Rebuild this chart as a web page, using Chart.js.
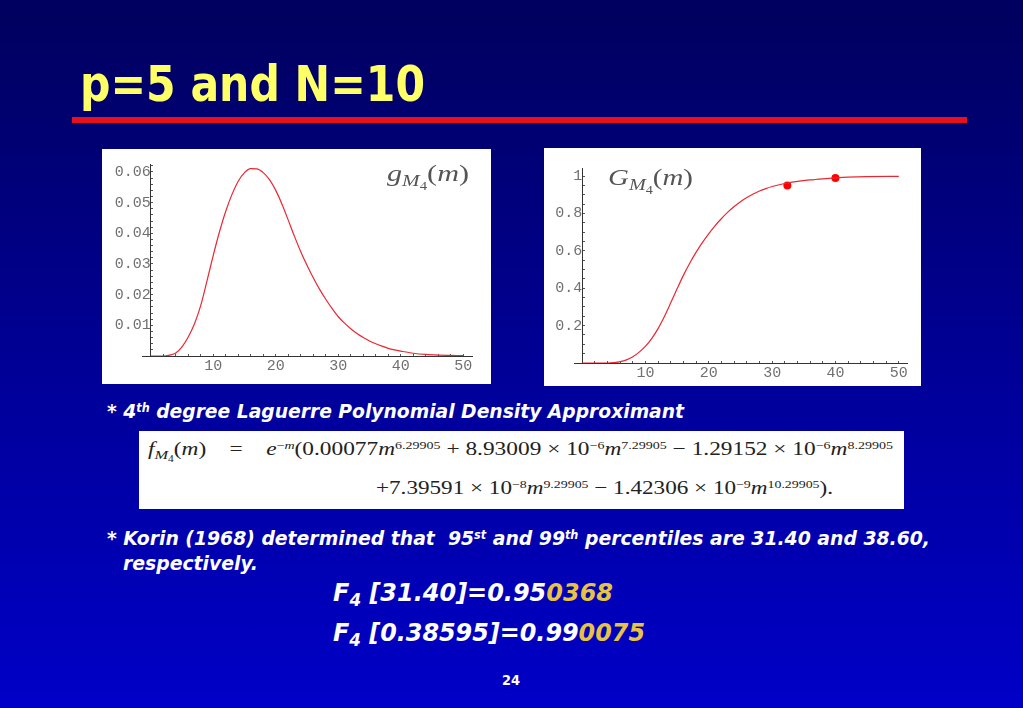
<!DOCTYPE html>
<html>
<head>
<meta charset="utf-8">
<script src="https://cdn.jsdelivr.net/npm/chart.js@4.4.0/dist/chart.umd.min.js"></script>
<style>
  html, body { margin: 0; padding: 0; }
  body {
    width: 1023px; height: 708px; overflow: hidden; position: relative;
    background: linear-gradient(to bottom, #00005e 0%, #00009a 55%, #0000c8 100%);
    font-family: "DejaVu Sans Condensed", "DejaVu Sans", sans-serif;
  }
  .abs { position: absolute; white-space: nowrap; line-height: 1; transform-origin: 0 0; }
  .title { left: 80px; top: 59px; font-size: 50px; font-weight: bold; color: #ffff66; }
  .rule { position: absolute; left: 72px; top: 117px; width: 895px; height: 6px; background: #e8101c; }
  .panel { position: absolute; background: #fff; }
  .panel canvas { position: absolute; left: 0; top: 0; }
  .txt { color: #fff; font-weight: bold; font-style: italic; font-size: 20px; }
  .fm { color: #fff; font-weight: bold; font-style: italic; font-size: 25px; }
  .gold { color: #e6c245; }
  .up { position: relative; top: -0.5em; font-size: 0.6em; }
  .dn { position: relative; top: 0.3em; font-size: 0.7em; }
  .lbl { font-family: "Liberation Serif", serif; color: #555; font-size: 24px; }
  .formula { font-family: "Liberation Serif", serif; color: #222; font-size: 19px; }
  .pg { color: #fff; font-weight: bold; font-size: 14px; }
</style>
</head>
<body>

<div class="abs title" id="title">p=5 and N=10</div>
<div class="rule"></div>

<div class="panel" style="left:102px;top:149px;width:389px;height:235px;">
  <canvas id="density" width="389" height="235"></canvas>
</div>
<div class="panel" style="left:544px;top:148px;width:377px;height:238px;">
  <canvas id="cdf" width="377" height="238"></canvas>
</div>

<div class="abs lbl" id="gl" style="left:387px;top:161px;"><i>g</i><span class="dn"><i>M</i><span class="dn">4</span></span>(<i>m</i>)</div>
<div class="abs lbl" id="Gl" style="left:608px;top:165px;"><i>G</i><span class="dn"><i>M</i><span class="dn">4</span></span>(<i>m</i>)</div>

<div class="abs txt" id="t1" style="left:107px;top:401px;">* 4<span class="up">th</span> degree Laguerre Polynomial Density Approximant</div>

<div class="panel" style="left:139px;top:431px;width:765px;height:78px;"></div>
<div class="abs formula" id="f1" style="left:148px;top:439px;"><i>f</i><span class="dn"><i>M</i><span class="dn">4</span></span>(<i>m</i>)&nbsp;&nbsp;&nbsp;&nbsp;=&nbsp;&nbsp;&nbsp;&nbsp;<i>e</i><span class="up">−<i>m</i></span>(0.00077<i>m</i><span class="up">6.29905</span> + 8.93009 × 10<span class="up">−6</span><i>m</i><span class="up">7.29905</span> − 1.29152 × 10<span class="up">−6</span><i>m</i><span class="up">8.29905</span></div>
<div class="abs formula" id="f2" style="left:376px;top:478px;">+7.39591 × 10<span class="up">−8</span><i>m</i><span class="up">9.29905</span> − 1.42306 × 10<span class="up">−9</span><i>m</i><span class="up">10.29905</span>).</div>

<div class="abs txt" id="t2" style="left:107px;top:528px;">* Korin (1968) determined that&nbsp; 95<span class="up">st</span> and 99<span class="up">th</span> percentiles are 31.40 and 38.60,</div>
<div class="abs txt" id="t3" style="left:123px;top:553px;">respectively.</div>

<div class="abs fm" id="F1" style="left:333px;top:580px;">F<span class="dn">4</span> [31.40]=0.95<span class="gold">0368</span></div>
<div class="abs fm" id="F2" style="left:333px;top:620px;">F<span class="dn">4</span> [0.38595]=0.99<span class="gold">0075</span></div>

<div class="abs pg" id="pg" style="left:502px;top:673px;">24</div>

<script>
// density g_M4(m)
const densityX = [0, 2, 3, 4, 5, 6, 7, 8, 9, 10, 11, 12, 13, 14, 15, 16, 17, 18, 19, 20,
                  21, 22, 23, 24, 25, 26, 27, 28, 29, 30, 31, 32, 33, 34, 35, 36, 37, 38, 39, 40,
                  42, 44, 46, 48, 50];
const densityY = [0, 0, 0.0003, 0.001, 0.003, 0.0062, 0.0105, 0.0165, 0.0245, 0.0328, 0.0405, 0.0472,
                  0.0527, 0.0570, 0.0598, 0.0611, 0.0610, 0.0598, 0.0575, 0.0540,
                  0.0495, 0.0443, 0.0390, 0.0340, 0.0296, 0.0255, 0.0218, 0.0185, 0.0155, 0.0128,
                  0.0107, 0.0089, 0.0073, 0.0060, 0.0049, 0.0040, 0.0032, 0.0025, 0.0020, 0.0016,
                  0.0009, 0.0005, 0.0003, 0.0002, 0.0001];

// distribution G_M4(m)
const cdfX = [0, 4, 5, 6, 7, 8, 9, 10, 11, 12, 13, 14, 15, 16, 17, 18, 19, 20, 21, 22, 23, 24,
              25, 26, 27, 28, 29, 30, 32, 34, 36, 38, 40, 42, 45, 50];
const cdfY = [0, 0, 0.002, 0.007, 0.017, 0.033, 0.058, 0.09, 0.132, 0.185, 0.25, 0.323, 0.398,
              0.47, 0.535, 0.593, 0.645, 0.692, 0.735, 0.773, 0.807, 0.837, 0.863, 0.885, 0.904,
              0.92, 0.933, 0.944, 0.96, 0.971, 0.979, 0.985, 0.99, 0.994, 0.997, 0.998];

// the two marked percentile points
const markX = [32.4, 40.0];
const markY = [0.949, 0.99];

// tick labels
const densityXLabels = [10, 20, 30, 40, 50];
const densityYLabels = [0.01, 0.02, 0.03, 0.04, 0.05, 0.06];
const cdfXLabels = [10, 20, 30, 40, 50];
const cdfYLabels = [0.2, 0.4, 0.6, 0.8, 1];

const tickFont = { family: 'Liberation Mono', size: 15 };
const tickColor = '#707070';
const curveColor = 'rgb(232, 40, 50)';

function minorTicks(max, step) {
  const t = [];
  for (let v = step; v <= max + 1e-9; v += step) t.push(+v.toFixed(4));
  return t;
}

function hasLabel(list, v) {
  return list.some(l => Math.abs(l - v) < 1e-9);
}

function axisX(min, max, labels, step, padding) {
  return {
    type: 'linear', min: min, max: max, position: { y: 0 },
    afterBuildTicks: s => { s.ticks = minorTicks(50, step).map(v => ({ value: v })); },
    ticks: {
      autoSkip: false, maxRotation: 0, padding: padding, color: tickColor, font: tickFont,
      callback: v => hasLabel(labels, v) ? String(v) : ''
    },
    grid: { drawOnChartArea: false, tickLength: -3, color: '#555' },
    border: { color: '#333', width: 1 }
  };
}

function axisY(min, max, labels, top, step, padding, fmt) {
  return {
    type: 'linear', min: min, max: max, position: { x: 0 },
    afterBuildTicks: s => { s.ticks = minorTicks(top, step).map(v => ({ value: v })); },
    ticks: {
      autoSkip: false, padding: padding, color: tickColor, font: tickFont,
      callback: v => hasLabel(labels, v) ? fmt(v) : ''
    },
    grid: { drawOnChartArea: false, tickLength: -3, color: '#555' },
    border: { color: '#333', width: 1 }
  };
}

const common = {
  responsive: false,
  animation: false,
  plugins: { legend: { display: false }, tooltip: { enabled: false } }
};

new Chart(document.getElementById('density'), {
  type: 'scatter',
  data: {
    datasets: [{
      data: densityX.map((x, i) => ({ x: x, y: densityY[i] })),
      showLine: true,
      borderColor: curveColor,
      borderWidth: 1.2,
      pointRadius: 0,
      cubicInterpolationMode: 'monotone'
    }]
  },
  options: Object.assign({}, common, {
    layout: { padding: { left: 40, right: 19, top: 8, bottom: 28 } },
    scales: {
      x: axisX(-1.4, 51.4, densityXLabels, 2, 4),
      y: axisY(0, 0.0626, densityYLabels, 0.062, 0.002, 6, v => v.toFixed(2))
    }
  })
});

new Chart(document.getElementById('cdf'), {
  type: 'scatter',
  data: {
    datasets: [{
      data: cdfX.map((x, i) => ({ x: x, y: cdfY[i] })),
      showLine: true,
      borderColor: curveColor,
      borderWidth: 1.2,
      pointRadius: 0,
      cubicInterpolationMode: 'monotone'
    }, {
      data: markX.map((x, i) => ({ x: x, y: markY[i] })),
      showLine: false,
      pointRadius: 4,
      pointBackgroundColor: '#ff0000',
      pointBorderWidth: 0
    }]
  },
  options: Object.assign({}, common, {
    layout: { padding: { left: 30, right: 14, top: 10, bottom: 23 } },
    scales: {
      x: axisX(-1.3, 51.3, cdfXLabels, 2, 4),
      y: axisY(0, 1.043, cdfYLabels, 1, 0.05, 11, v => v === 1 ? '1' : v.toFixed(1))
    }
  })
});

// squeeze each text block to the width it has on the slide
function fit(id, w) {
  const el = document.getElementById(id);
  const r = el.getBoundingClientRect().width;
  const k = w / r;
  el.style.transform = 'scaleX(' + k + ')';
  return k;
}
fit('title', 345);
fit('gl', 82);
fit('Gl', 85);
fit('t1', 577);
fit('f1', 745);
fit('f2', 457);
const k = fit('t2', 823);
document.getElementById('t3').style.transform = 'scaleX(' + k + ')';
fit('F1', 280);
fit('F2', 312);
fit('pg', 18);
</script>
</body>
</html>
